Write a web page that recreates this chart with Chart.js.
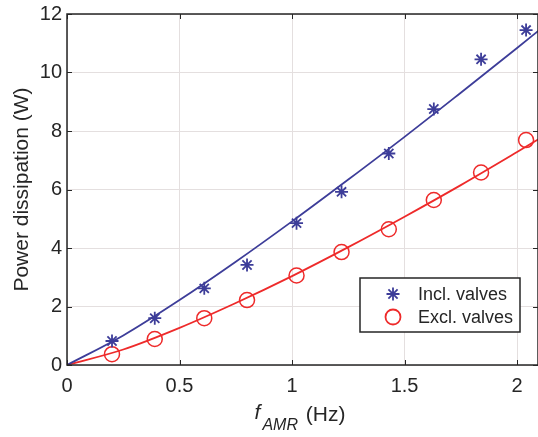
<!DOCTYPE html>
<html>
<head>
<meta charset="utf-8">
<script src="https://cdn.jsdelivr.net/npm/chart.js@4.4.0/dist/chart.umd.min.js"></script>
<style>
  html, body { margin: 0; padding: 0; background: #fff; }
  #wrap { width: 538px; height: 437px; }
</style>
</head>
<body>
<div id="wrap"><canvas id="powerChart" width="538" height="437"></canvas></div>
<script>
// measured points
var freq = [0.2, 0.39, 0.61, 0.8, 1.02, 1.22, 1.43, 1.63, 1.84, 2.04];
var inclValves = [0.82, 1.6, 2.62, 3.42, 4.85, 5.92, 7.23, 8.75, 10.45, 11.45];
var exclValves = [0.37, 0.89, 1.6, 2.22, 3.06, 3.86, 4.64, 5.64, 6.58, 7.69];

// fitted curves
var fitFreq = [0, 0.25, 0.5, 0.75, 1, 1.25, 1.5, 1.75, 2, 2.1];
var inclFit = [0, 1.01, 2.22, 3.53, 4.91, 6.34, 7.8, 9.31, 10.84, 11.46];
var exclFit = [0, 0.53, 1.27, 2.12, 3.04, 4.03, 5.07, 6.15, 7.28, 7.74];

var xTicks = [0, 0.5, 1, 1.5, 2];
var yTicks = [0, 2, 4, 6, 8, 10, 12];

var blue = '#3d3d99';
var red = '#ee2a2a';
var axisColor = '#262626';
var font = "'Liberation Sans', Arial, sans-serif";

function pts(xs, ys) {
    return xs.map(function (x, i) { return {x: x, y: ys[i]}; });
}

var framePlugin = {
    id: 'frame',
    afterDraw: function (chart) {
        var ctx = chart.ctx;
        var a = chart.chartArea;
        var xs = chart.scales.x, ys = chart.scales.y;
        ctx.save();
        // box
        ctx.strokeStyle = axisColor;
        ctx.lineWidth = 1.5;
        ctx.strokeRect(a.left, a.top, a.right - a.left, a.bottom - a.top);
        // inward ticks
        ctx.lineWidth = 1;
        xTicks.forEach(function (v) {
            var px = Math.round(xs.getPixelForValue(v)) + 0.5;
            ctx.beginPath();
            ctx.moveTo(px, a.bottom); ctx.lineTo(px, a.bottom - 5);
            ctx.moveTo(px, a.top); ctx.lineTo(px, a.top + 5);
            ctx.stroke();
        });
        yTicks.forEach(function (v) {
            var py = Math.round(ys.getPixelForValue(v)) + 0.5;
            ctx.beginPath();
            ctx.moveTo(a.left, py); ctx.lineTo(a.left + 5, py);
            ctx.moveTo(a.right, py); ctx.lineTo(a.right - 5, py);
            ctx.stroke();
        });

        // x axis title with italic f and subscript
        ctx.fillStyle = axisColor;
        ctx.textBaseline = 'alphabetic';
        var cx = 300;
        var base = 421;
        var f1 = 'italic 21px ' + font, f2 = 'italic 16px ' + font, f3 = '21px ' + font;
        ctx.font = f1; var w1 = ctx.measureText('f').width;
        ctx.font = f2; var w2 = ctx.measureText('AMR').width;
        ctx.font = f3; var w3 = ctx.measureText(' (Hz)').width;
        var x0 = cx - (w1 + w2 + w3 + 4) / 2;
        ctx.textAlign = 'left';
        ctx.font = f1; ctx.fillText('f', x0, base - 2);
        ctx.font = f2; ctx.fillText('AMR', x0 + w1 + 2, base + 9);
        ctx.font = f3; ctx.fillText(' (Hz)', x0 + w1 + w2 + 4, base);

        // legend box
        var lx = 360, ly = 278, lw = 160, lh = 54;
        ctx.fillStyle = '#fff';
        ctx.fillRect(lx, ly, lw, lh);
        ctx.strokeStyle = axisColor;
        ctx.lineWidth = 1.5;
        ctx.strokeRect(lx, ly, lw, lh);
        var items = [
            {label: 'Incl. valves', style: 'star', color: blue, r: 6.5},
            {label: 'Excl. valves', style: 'circle', color: red, r: 7.5}
        ];
        items.forEach(function (it, i) {
            var my = ly + 16 + i * 23;
            ctx.strokeStyle = it.color;
            ctx.fillStyle = 'rgba(0,0,0,0)';
            ctx.lineWidth = 1.8;
            Chart.helpers.drawPoint(ctx, {pointStyle: it.style, radius: it.r, borderWidth: 1.8}, 393, my);
            ctx.fillStyle = axisColor;
            ctx.font = '18px ' + font;
            ctx.textBaseline = 'middle';
            ctx.fillText(it.label, 418, my + 1);
        });
        ctx.restore();
    }
};

var chartCanvas = document.getElementById('powerChart');
var powerChart = new Chart(chartCanvas, {
    type: 'scatter',
    data: {
        datasets: [
            {
                label: 'Incl. valves fit',
                data: pts(fitFreq, inclFit),
                showLine: true,
                borderColor: blue,
                borderWidth: 1.8,
                pointRadius: 0,
                cubicInterpolationMode: 'monotone'
            },
            {
                label: 'Excl. valves fit',
                data: pts(fitFreq, exclFit),
                showLine: true,
                borderColor: red,
                borderWidth: 1.8,
                pointRadius: 0,
                cubicInterpolationMode: 'monotone'
            },
            {
                label: 'Incl. valves',
                data: pts(freq, inclValves),
                pointStyle: 'star',
                pointRadius: 6.5,
                pointBorderWidth: 1.8,
                borderColor: blue,
                backgroundColor: blue
            },
            {
                label: 'Excl. valves',
                data: pts(freq, exclValves),
                pointStyle: 'circle',
                pointRadius: 7.5,
                pointBorderWidth: 1.5,
                borderColor: red,
                backgroundColor: 'rgba(0,0,0,0)'
            }
        ]
    },
    options: {
        responsive: false,
        animation: false,
        events: [],
        layout: {autoPadding: false, padding: {top: 14, right: 0, left: 0, bottom: 0}},
        plugins: {
            legend: {display: false},
            tooltip: {enabled: false}
        },
        scales: {
            x: {
                type: 'linear',
                min: 0,
                max: 2.093,
                afterBuildTicks: function (s) { s.ticks = xTicks.map(function (v) { return {value: v}; }); },
                afterFit: function (s) { s.height = 72; s.paddingRight = 0; s.paddingLeft = 0; },
                border: {display: false},
                grid: {color: '#e4dfdf', lineWidth: 1, drawTicks: false},
                ticks: {
                    color: axisColor,
                    padding: 9,
                    font: {family: font, size: 20},
                    maxRotation: 0,
                    callback: function (v) { return String(v); }
                }
            },
            y: {
                type: 'linear',
                min: 0,
                max: 12,
                afterBuildTicks: function (s) { s.ticks = yTicks.map(function (v) { return {value: v}; }); },
                afterFit: function (s) { s.width = 67; s.paddingTop = 0; s.paddingBottom = 0; },
                border: {display: false},
                grid: {color: '#e4dfdf', lineWidth: 1, drawTicks: false},
                ticks: {
                    color: axisColor,
                    padding: 5,
                    font: {family: font, size: 20}
                },
                title: {
                    display: true,
                    text: 'Power dissipation (W)',
                    color: axisColor,
                    font: {family: font, size: 21},
                    padding: {top: 10, bottom: 0}
                }
            }
        }
    },
    plugins: [framePlugin]
});
</script>
</body>
</html>
